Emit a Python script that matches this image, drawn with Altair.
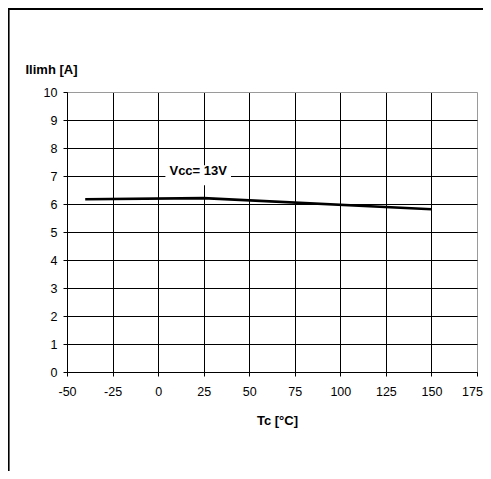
import altair as alt
import pandas as pd

# Data
tc = [-40, 25, 150]
ilim = [6.17, 6.21, 5.81]

label_text = ["Vcc= 13V"]
label_x = [22]
label_y = [7.17]
# white box behind the label (data units)
box_x = [4]
box_x2 = [40]
box_y = [6.67]
box_y2 = [7.38]

x_ticks = [-50, -25, 0, 25, 50, 75, 100, 125, 150, 175]
y_ticks = [0, 1, 2, 3, 4, 5, 6, 7, 8, 9, 10]

df = pd.DataFrame({"tc": tc, "ilim": ilim})
lab = pd.DataFrame({"t": label_text, "x": label_x, "y": label_y,
                    "x1": box_x, "x2": box_x2, "y1": box_y, "y2": box_y2})

FONT = "Liberation Sans"

xscale = alt.Scale(domain=[-50, 175], nice=False, zero=False)
yscale = alt.Scale(domain=[0, 10], nice=False, zero=False)

grid_color = alt.condition("datum.value == 175", alt.value("#9a9a9a"), alt.value("#000000"))
ygrid_color = alt.condition("datum.value == 10", alt.value("#9a9a9a"), alt.value("#000000"))
last_off = alt.condition("datum.value == 175", alt.value(-5), alt.value(0))

xaxis = alt.Axis(values=x_ticks, title="Tc [°C]", grid=True, gridColor=grid_color,
                 gridWidth=1, gridOpacity=1, domainColor="#000", domainWidth=1,
                 tickColor="#000", tickSize=4, tickWidth=1,
                 labelExpr="'' + datum.value", labelOffset=last_off,
                 labelFont=FONT, labelFontSize=12.5, labelColor="#000", labelPadding=9,
                 labelFlush=False, labelOverlap=False,
                 titleFont=FONT, titleFontSize=13, titleFontWeight="bold", titleColor="#000",
                 titleX=210, titleY=48, titleAlign="center", titleBaseline="middle")
yaxis = alt.Axis(values=y_ticks, title="Ilimh [A]", grid=True, gridColor=ygrid_color,
                 gridWidth=1, gridOpacity=1, domainColor="#000", domainWidth=1,
                 tickColor="#000", tickSize=4, tickWidth=1,
                 labelExpr="'' + datum.value",
                 labelFont=FONT, labelFontSize=12.5, labelColor="#000", labelPadding=6,
                 labelFlush=False, labelOverlap=False,
                 titleFont=FONT, titleFontSize=13, titleFontWeight="bold", titleColor="#000",
                 titleAngle=0, titleX=-42, titleY=-23, titleAlign="left",
                 titleBaseline="middle")

line = alt.Chart(df).mark_line(color="#000", strokeWidth=2.6).encode(
    x=alt.X("tc:Q", scale=xscale, axis=xaxis, title="Tc [°C]"),
    y=alt.Y("ilim:Q", scale=yscale, axis=yaxis, title="Ilimh [A]"),
)

box = alt.Chart(lab).mark_rect(color="white").encode(
    x=alt.X("x1:Q", scale=xscale, axis=xaxis, title="Tc [°C]"), x2="x2:Q",
    y=alt.Y("y1:Q", scale=yscale, axis=yaxis, title="Ilimh [A]"), y2="y2:Q",
)

text = alt.Chart(lab).mark_text(font=FONT, fontSize=13, fontWeight="bold",
                                color="#000", align="center", baseline="middle").encode(
    x=alt.X("x:Q", scale=xscale, axis=xaxis, title="Tc [°C]"),
    y=alt.Y("y:Q", scale=yscale, axis=yaxis, title="Ilimh [A]"),
    text="t:N")

# outer frame of the chart area (left and top edges)
frame_left = alt.Chart(lab).mark_rule(color="#000", strokeWidth=2.2, clip=False).encode(
    x=alt.value(-58.5), y=alt.value(-83), y2=alt.value(380))
frame_top = alt.Chart(lab).mark_rule(color="#000", strokeWidth=2.2, clip=False).encode(
    x=alt.value(-59), x2=alt.value(430), y=alt.value(-83))

chart = alt.layer(line, box, text, frame_left, frame_top).properties(
    width=410, height=280,
    autosize=alt.AutoSizeParams(type="none"),
    padding={"left": 59, "top": 84, "right": 6, "bottom": 99},
).configure_view(strokeWidth=0).configure(background="white")

chart.save("out.html", embed_options={"renderer": "svg", "actions": False})
